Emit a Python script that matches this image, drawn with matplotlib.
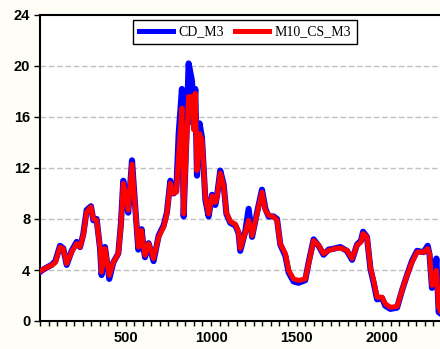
import matplotlib
matplotlib.use("Agg")
import matplotlib.pyplot as plt
from matplotlib.ticker import MultipleLocator

obs = [0, 9, 40, 68, 90, 117, 136, 156, 185, 214, 234, 253, 273, 298, 312, 331, 351, 360, 380, 405,
       429, 458, 473, 487, 501, 516, 538, 555, 575, 594, 606, 614, 635, 664, 694, 723, 742, 762, 781, 797,
       811, 830, 840, 855, 869, 889, 898, 908, 918, 933, 947, 957, 967, 986, 1006, 1025, 1035, 1054, 1074, 1090,
       1113, 1142, 1161, 1171, 1200, 1220, 1240, 1269, 1298, 1318, 1337, 1366, 1386, 1405, 1435, 1454, 1483, 1512, 1551, 1571,
       1600, 1629, 1658, 1688, 1727, 1756, 1795, 1825, 1854, 1877, 1889, 1912, 1932, 1951, 1971, 2000, 2019, 2049, 2088, 2117,
       2146, 2175, 2205, 2243, 2267, 2278, 2292, 2306, 2318, 2331, 2341]

m10_cs_m3 = [3.9, 3.97, 4.2, 4.36, 4.6, 5.8, 5.67, 4.5, 5.4, 6.07, 5.8, 6.7, 8.55, 8.95, 8.03, 7.9, 5.8, 3.84, 5.68, 3.58,
             4.6, 5.28, 7.4, 10.8, 9.87, 8.7, 12.3, 9.2, 5.8, 7.1, 5.8, 5.15, 6.07, 4.9, 6.6, 7.37, 8.4, 10.8, 10.0, 10.1,
             13.1, 16.7, 8.4, 13.4, 17.6, 17.6, 15.0, 17.86, 11.8, 14.7, 14.2, 12.1, 9.7, 8.4, 9.8, 9.3, 9.7, 11.6, 10.6, 8.5,
             7.8, 7.6, 7.0, 5.7, 6.9, 7.9, 6.7, 8.4, 10.1, 8.7, 8.3, 8.16, 7.9, 6.07, 5.28, 3.97, 3.3, 3.18, 3.3, 4.5,
             6.3, 5.94, 5.28, 5.54, 5.68, 5.72, 5.54, 4.9, 5.94, 6.2, 6.86, 6.6, 4.23, 3.18, 1.87, 1.87, 1.35, 1.08, 1.14, 2.4,
             3.58, 4.6, 5.4, 5.4, 5.68, 5.28, 2.8, 2.9, 3.97, 1.08, 0.8]

cd_m3 = [3.85, 3.95, 4.2, 4.4, 4.7, 5.9, 5.7, 4.4, 5.5, 6.2, 5.8, 6.8, 8.7, 9.0, 7.9, 8.0, 5.7, 3.6, 5.8, 3.3,
         4.6, 5.3, 7.6, 11.0, 9.7, 8.5, 12.6, 9.3, 5.6, 7.2, 5.7, 5.0, 6.1, 4.7, 6.7, 7.5, 8.5, 11.0, 10.0, 10.2,
         14.7, 18.2, 8.2, 14.0, 20.2, 18.8, 15.4, 18.2, 11.4, 15.5, 14.4, 12.0, 9.5, 8.2, 9.9, 9.1, 9.8, 11.8, 10.7, 8.4,
         7.7, 7.5, 6.9, 5.5, 7.0, 8.8, 6.6, 8.5, 10.3, 8.8, 8.2, 8.2, 8.0, 6.0, 5.1, 3.8, 3.1, 3.0, 3.2, 4.6,
         6.4, 5.9, 5.2, 5.6, 5.7, 5.8, 5.5, 4.8, 6.0, 6.3, 7.0, 6.6, 4.1, 3.0, 1.7, 1.8, 1.2, 0.95, 1.05, 2.4,
         3.6, 4.7, 5.5, 5.4, 5.9, 5.2, 2.6, 2.8, 4.9, 0.7, 0.6]

x_ticks = [500, 1000, 1500, 2000]
y_ticks = [0, 4, 8, 12, 16, 20, 24]

fig = plt.figure(figsize=(4.4, 3.49), dpi=100, facecolor="#fefef6")
ax = fig.add_axes([40/440, 28/349, 1 - 40/440, (321 - 15)/349])
ax.set_facecolor("white")

ax.plot(obs, cd_m3, color="#0000ff", lw=4.4, label="CD_M3", solid_joinstyle="round", zorder=3)
ax.plot(obs, m10_cs_m3, color="#ff0000", lw=3.6, label="M10_CS_M3", solid_joinstyle="round", zorder=4)

ax.set_xlim(0, 2339)
ax.set_ylim(0, 24)
ax.set_xticks(x_ticks)
ax.set_yticks(y_ticks)
ax.xaxis.set_minor_locator(MultipleLocator(50))
ax.tick_params(axis="x", which="both", direction="out", length=3.5, width=1, pad=4)
ax.tick_params(axis="y", which="major", direction="out", length=4, width=1, pad=3)
for lab in ax.get_xticklabels() + ax.get_yticklabels():
    lab.set_fontfamily("Liberation Sans")
    lab.set_fontweight("bold")
    lab.set_fontsize(10.5)

for y in y_ticks[1:-1]:
    ax.axhline(y, color="#c0c0c0", lw=1, ls=(0, (4, 2)), zorder=1)
ax.axhline(0, color="#c0c0c0", lw=1, ls=(0, (4, 2)), zorder=1)

for s in ["left", "top", "bottom"]:
    ax.spines[s].set_linewidth(1.5)
    ax.spines[s].set_color("black")
ax.spines["right"].set_visible(False)

leg = ax.legend(loc="upper center", bbox_to_anchor=(0.5125, 0.985), ncol=2, frameon=True,
                fancybox=False, edgecolor="black", framealpha=1,
                prop={"family": "Liberation Serif", "size": 10},
                handlelength=2.45, handletextpad=0.36, columnspacing=0.85,
                borderpad=0.42, borderaxespad=0)
leg.get_frame().set_linewidth(1.0)
for h in leg.get_lines():
    h.set_linewidth(3.6)

fig.savefig("out.png", dpi=100, facecolor=fig.get_facecolor())
